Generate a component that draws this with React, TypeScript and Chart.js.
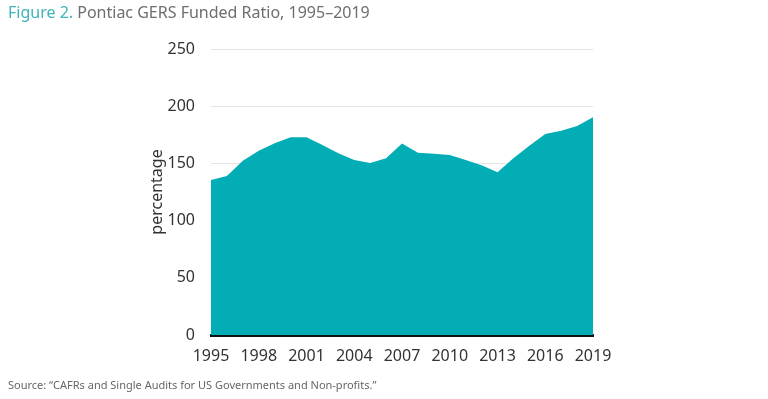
import React, { useEffect, useRef } from "react";
import { Chart, registerables } from "chart.js";

Chart.register(...registerables);

const years: number[] = [
  1995, 1996, 1997, 1998, 1999, 2000, 2001, 2002, 2003, 2004, 2005, 2006, 2007,
  2008, 2009, 2010, 2011, 2012, 2013, 2014, 2015, 2016, 2017, 2018, 2019,
];
const fundedRatio: number[] = [
  135.5, 139, 152.4, 161, 167.6, 172.8, 172.8, 166, 158.8, 153, 150.3, 154.4,
  167.5, 159.4, 158.5, 157.3, 153, 148.3, 142.2, 154.4, 165.5, 175.7, 178.6,
  182.7, 190.3,
];
const yTicks: number[] = [0, 50, 100, 150, 200, 250];

const FONT = "'Noto Sans', 'Open Sans', sans-serif";
const TEAL = "#02adb5";

export default function App() {
  const ref = useRef<HTMLCanvasElement | null>(null);

  useEffect(() => {
    if (!ref.current) return;
    const chart = new Chart(ref.current, {
      type: "line",
      data: {
        labels: years.map(String),
        datasets: [
          {
            data: fundedRatio,
            fill: "origin",
            backgroundColor: TEAL,
            borderWidth: 0,
            pointRadius: 0,
            tension: 0,
          },
        ],
      },
      options: {
        responsive: false,
        animation: false,
        events: [],
        layout: { padding: { left: 140, right: 175, top: 49, bottom: 34 } },
        plugins: { legend: { display: false }, tooltip: { enabled: false } },
        scales: {
          x: {
            z: 1,
            offset: false,
            grid: { display: false, drawTicks: false },
            border: { display: true, color: "#111111", width: 3 },
            ticks: {
              autoSkip: false,
              maxRotation: 0,
              padding: 12,
              color: "#333333",
              font: { family: FONT, size: 16 },
              callback: (_v: any, i: number) => (i % 3 === 0 ? years[i] : ""),
            },
            afterFit: (s: any) => {
              s.height = 30;
            },
          },
          y: {
            min: 0,
            max: 250,
            afterBuildTicks: (s: any) => {
              s.ticks = yTicks.map((v) => ({ value: v }));
            },
            grid: { color: "#e4e4e4", lineWidth: 1, drawTicks: false },
            border: { display: false },
            ticks: {
              padding: 16,
              color: "#333333",
              font: { family: FONT, size: 16 },
            },
            title: {
              display: true,
              text: "percentage",
              color: "#333333",
              padding: { top: 8, bottom: 0 },
              font: { family: FONT, size: 16 },
            },
            afterFit: (s: any) => {
              s.width = 71;
            },
          },
        },
      },
    });
    return () => chart.destroy();
  }, []);

  return (
    <div style={{ position: "absolute", left: 0, top: 0, width: 768, height: 399, background: "#fff" }}>
      <canvas ref={ref} width={768} height={399} style={{ position: "absolute", left: 0, top: 0 }} />
      <div
        style={{
          position: "absolute",
          left: 8,
          top: 1,
          fontFamily: FONT,
          fontSize: 16,
          color: "#6d6e71",
          whiteSpace: "nowrap",
        }}
      >
        <span style={{ color: "#3fb3b9" }}>Figure 2.</span> Pontiac GERS Funded Ratio, 1995–2019
      </div>
      <div
        style={{
          position: "absolute",
          left: 8,
          top: 377,
          fontFamily: FONT,
          fontSize: 11,
          color: "#666666",
          whiteSpace: "nowrap",
        }}
      >
        Source: “CAFRs and Single Audits for US Governments and Non-profits.”
      </div>
    </div>
  );
}
